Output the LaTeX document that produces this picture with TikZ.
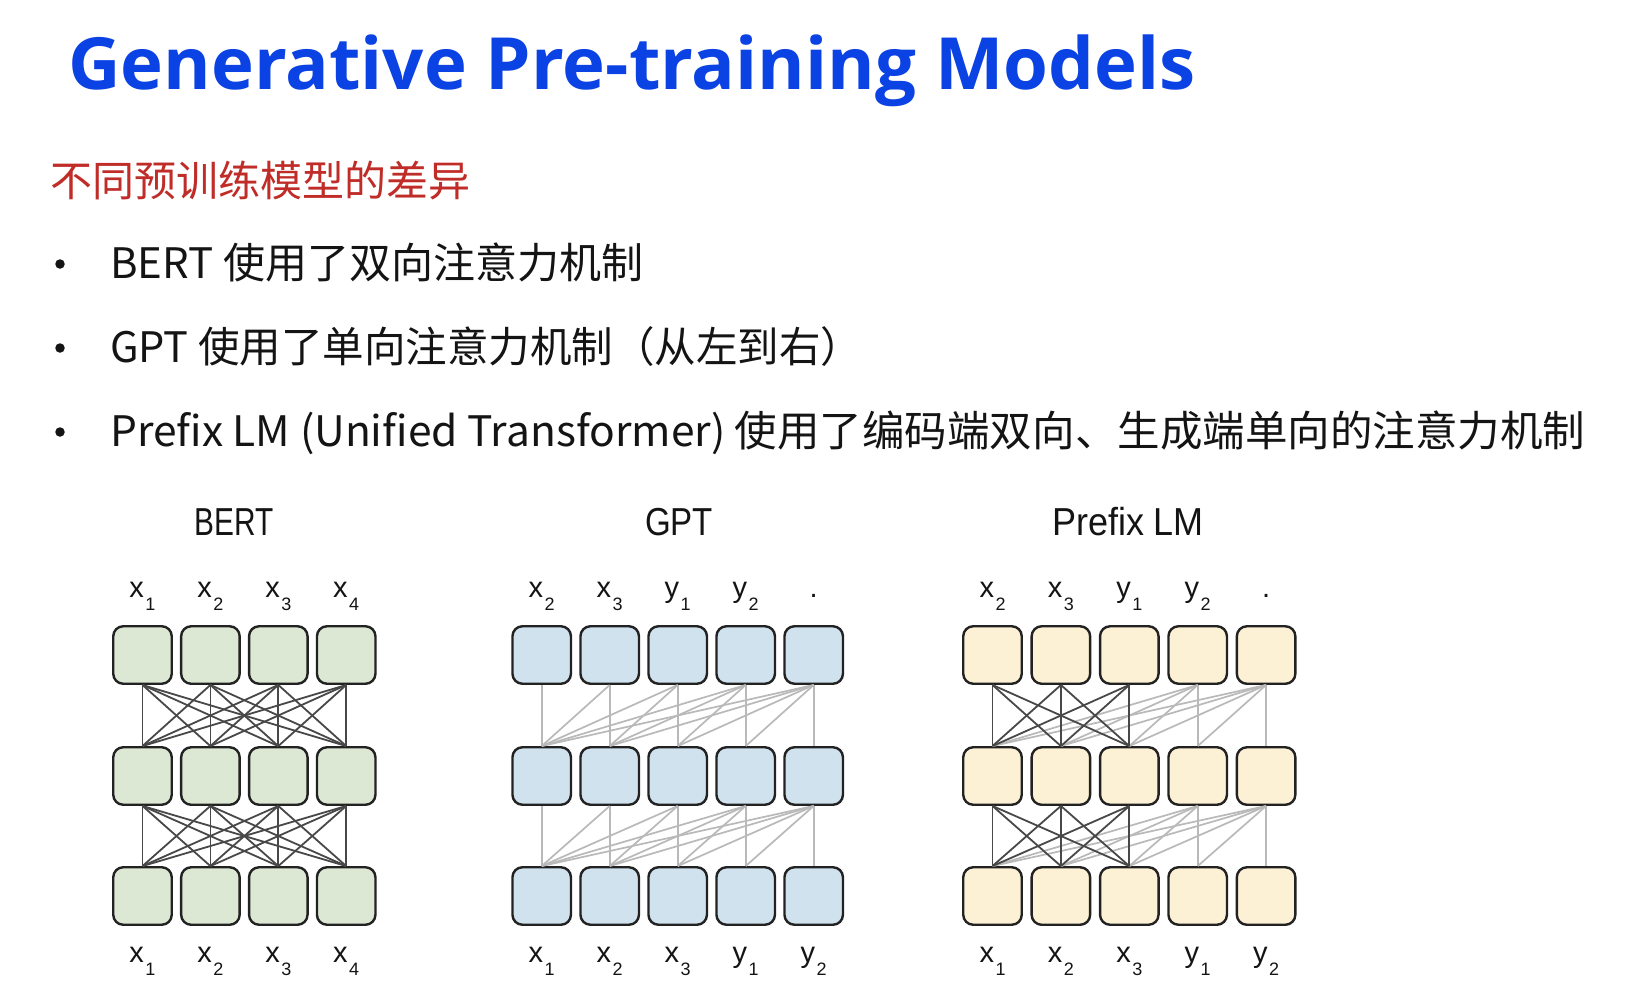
\documentclass[tikz,border=0pt]{standalone}
\usepackage{fontspec}
\usepackage{graphicx}
\setmainfont{Liberation Sans}
\newfontfamily\cjkfont{Noto Sans CJK SC}
\newfontfamily\titlefont{Open Sans}

\definecolor{titleblue}{RGB}{10,66,228}
\definecolor{subred}{RGB}{192,44,40}
\definecolor{bodyink}{RGB}{20,20,20}
\definecolor{bertfill}{RGB}{221,232,212}
\definecolor{gptfill}{RGB}{207,226,238}
\definecolor{prefixfill}{RGB}{252,241,212}
\definecolor{cellborder}{RGB}{34,34,34}
\definecolor{edgedark}{RGB}{72,72,72}
\definecolor{edgelight}{RGB}{185,185,185}

% token label: letter with a deep subscript
\newcommand\tk[2]{#1\kern1.5pt\raisebox{-13pt}{\fontsize{18}{18}\selectfont #2}}

\tikzset{
  cell/.style={draw=cellborder, line width=2.4pt, rounded corners=10pt,
    minimum width=58.5pt, minimum height=57.5pt, inner sep=0pt},
  tok/.style={font=\fontsize{29}{29}\selectfont, inner sep=0pt, anchor=base, text=bodyink},
  heading/.style={inner sep=0pt, anchor=base, text=bodyink},
  bodyline/.style={font=\cjkfont\fontsize{42}{42}\selectfont, inner sep=0pt,
    anchor=base west, text=bodyink},
  bulletdot/.style={circle, fill=bodyink, inner sep=0pt, minimum size=9.5pt},
  attn/.style={draw=edgedark, line width=1.8pt},
  attnlight/.style={draw=edgelight, line width=1.7pt},
}

\begin{document}
\begin{tikzpicture}[x=1pt, y=-1pt]
\useasboundingbox[fill=white] (0,0) rectangle (1644,994);

% ---------- title and text ----------
\node[inner sep=0pt, anchor=base west, text=titleblue] (title) at (68,89)
  {\resizebox{1127pt}{\height}{\titlefont\bfseries\fontsize{72}{72}\selectfont Generative Pre-training Models}};

\node[inner sep=0pt, anchor=base west, text=subred,
  font=\cjkfont\fontsize{42}{42}\selectfont] (subtitle) at (50,196) {不同预训练模型的差异};

\node[bulletdot] (dot1) at (60,264) {};
\node[bulletdot] (dot2) at (60,348) {};
\node[bulletdot] (dot3) at (60,432) {};
\node[bodyline] (line1) at (110,278) {BERT 使用了双向注意力机制};
\node[bodyline] (line2) at (110,362)
  {\resizebox{752pt}{\height}{GPT 使用了单向注意力机制（从左到右）}};
\node[bodyline] (line3) at (110,446)
  {\resizebox{1475pt}{\height}{Prefix LM (Unified Transformer) 使用了编码端双向、生成端单向的注意力机制}};

% ---------- model headings ----------
\node[heading] (hbert) at (234,535) {\resizebox{79pt}{\height}{\fontsize{39}{39}\selectfont BERT}};
\node[heading] (hgpt) at (679,535) {\resizebox{68pt}{\height}{\fontsize{39}{39}\selectfont GPT}};
\node[heading] (hpre) at (1128,535) {\resizebox{152pt}{\height}{\fontsize{39}{39}\selectfont Prefix LM}};

% ---------- cells ----------
\foreach \r/\y in {1/655,2/776,3/896} {
  \foreach \c in {1,...,4}
    \node[cell, fill=bertfill] (b\r\c) at ({142.5+67.9*(\c-1)},\y) {};
  \foreach \c in {1,...,5}
    \node[cell, fill=gptfill] (g\r\c) at ({541.7+68*(\c-1)},\y) {};
  \foreach \c in {1,...,5}
    \node[cell, fill=prefixfill] (p\r\c) at ({992.5+68.4*(\c-1)},\y) {};
}

% ---------- attention connections ----------
\foreach \r/\s in {1/2,2/3} {
  % BERT: every position sees every position
  \foreach \i in {1,...,4}
    \foreach \j in {1,...,4}
      \draw[attn] (b\r\i.south) -- (b\s\j.north);
  % GPT: left-to-right only
  \foreach \i in {1,...,5}
    \foreach \j in {1,...,\i}
      \draw[attnlight] (g\r\i.south) -- (g\s\j.north);
  % Prefix LM: bidirectional prefix, causal generation
  \foreach \i in {4,5}
    \foreach \j in {1,...,\i}
      \draw[attnlight] (p\r\i.south) -- (p\s\j.north);
  \foreach \i in {1,...,3}
    \foreach \j in {1,...,3}
      \draw[attn] (p\r\i.south) -- (p\s\j.north);
}

% ---------- token labels ----------
\foreach \c/\t in {1/\tk{x}{1},2/\tk{x}{2},3/\tk{x}{3},4/\tk{x}{4}} {
  \node[tok] (bt\c) at ({142.5+67.9*(\c-1)},597) {\t};
  \node[tok] (bb\c) at ({142.5+67.9*(\c-1)},962) {\t};
}
\foreach \c/\t in {1/\tk{x}{2},2/\tk{x}{3},3/\tk{y}{1},4/\tk{y}{2},5/.} {
  \node[tok] (gt\c) at ({541.7+68*(\c-1)},597) {\t};
  \node[tok] (pt\c) at ({992.5+68.4*(\c-1)},597) {\t};
}
\foreach \c/\t in {1/\tk{x}{1},2/\tk{x}{2},3/\tk{x}{3},4/\tk{y}{1},5/\tk{y}{2}} {
  \node[tok] (gb\c) at ({541.7+68*(\c-1)},962) {\t};
  \node[tok] (pb\c) at ({992.5+68.4*(\c-1)},962) {\t};
}
\end{tikzpicture}
\end{document}
